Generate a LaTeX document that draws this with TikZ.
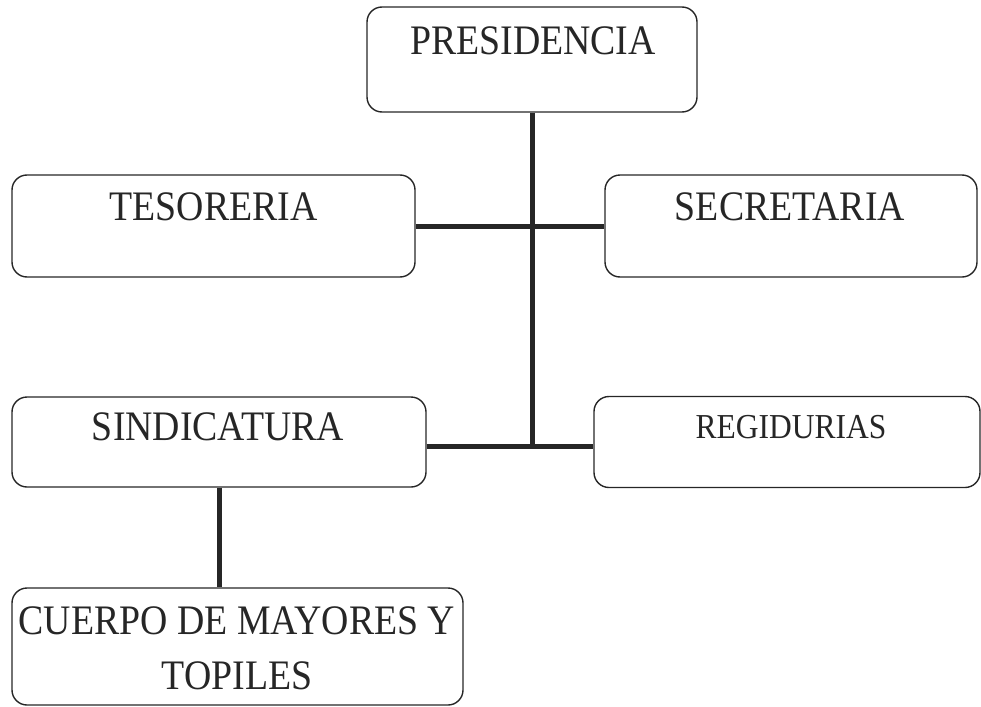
\documentclass[tikz,border=0pt]{standalone}
\usepackage{fontspec}
\setmainfont{Liberation Serif}[FakeStretch=0.9]
\definecolor{ink}{HTML}{262626}
\begin{document}
\begin{tikzpicture}[x=1pt,y=-1pt,
  box/.style={draw=ink, line width=1.4pt, rounded corners=15pt, inner sep=0pt},
  txt/.style={text=ink, inner sep=0pt, anchor=base, font=\fontsize{42}{50}\selectfont},
  smalltxt/.style={text=ink, inner sep=0pt, anchor=base, font=\fontsize{35}{42}\selectfont},
  conn/.style={draw=ink, line width=5pt}]
\useasboundingbox (0,0) rectangle (981,706);
\node[box, minimum width=330pt, minimum height=105pt] (pres) at (532,59.5) {};
\node[txt] (presT) at (533,55) {PRESIDENCIA};
\node[box, minimum width=403pt, minimum height=102pt] (tes) at (213.5,226) {};
\node[txt] (tesT) at (213.5,220) {TESORERIA};
\node[box, minimum width=372pt, minimum height=102pt] (sec) at (791,226) {};
\node[txt] (secT) at (790,220) {SECRETARIA};
\node[box, minimum width=414pt, minimum height=90pt] (sind) at (219,442) {};
\node[txt] (sindT) at (218,440) {SINDICATURA};
\node[box, minimum width=386pt, minimum height=91pt] (reg) at (787,442) {};
\node[smalltxt] (regT) at (791,438) {REGIDURIAS};
\node[box, minimum width=451pt, minimum height=117pt] (cue) at (237.5,646.5) {};
\node[txt] (cueT1) at (237,634) {CUERPO DE MAYORES Y};
\node[txt] (cueT2) at (237,689) {TOPILES};
\coordinate (sindR) at ([yshift=-4pt]sind.east);
\draw[conn] (pres.south) -- (pres.south |- sindR);
\draw[conn] (tes.east) -- (sec.west);
\draw[conn] (sindR) -- (sindR -| reg.west);
\draw[conn] (sind.south) -- (sind.south |- cue.north);
\end{tikzpicture}
\end{document}
